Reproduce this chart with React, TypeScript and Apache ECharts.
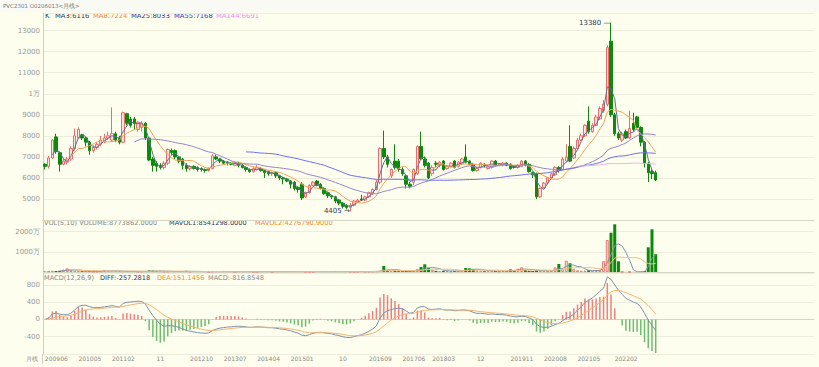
import React, { useEffect, useRef } from "react";
import * as echarts from "echarts";

// ---- monthly bars (PVC2301 continuous, monthly) ----
const opens = [
  6650, 6550, 6950, 7950, 7200, 6650, 6750, 6900, 7400, 7900,
  8050, 7900, 7700, 7300, 7450, 7600, 7700, 7900, 7800, 8100,
  7900, 7700, 9050, 8800, 8800, 8300, 8400, 8600, 7900, 6900,
  6700, 6600, 6500, 6700, 7300, 7300, 7000, 6900, 6600, 6450,
  6550, 6500, 6450, 6400, 6350, 6450, 7000, 6900, 6800, 6750,
  6700, 6600, 6700, 6600, 6500, 6400, 6300, 6400, 6450, 6350,
  6300, 6200, 6250, 6100, 6000, 5950, 5850, 5800, 5550, 5700,
  5100, 5300, 5650, 5850, 5700, 5500, 5300, 5150, 5100, 4950,
  4800, 4700, 4600, 4700, 4850, 5000, 4950, 5100, 5250, 5450,
  5800, 7400, 7000, 6100, 6800, 6800, 6400, 6100, 5700, 5800,
  6200, 7500, 6900, 6700, 6200, 6700, 6600, 6800, 6450, 6550,
  6800, 6550, 6700, 7000, 6800, 6650, 6350, 6500, 6650, 6450,
  6500, 6800, 6600, 6600, 6700, 6650, 6550, 6500, 6550, 6800,
  6650, 6250, 6200, 5100, 5550, 5750, 6000, 6150, 6500, 6400,
  6800, 7500, 6950, 7400, 7800, 8000, 8700, 8200, 8500, 8800,
  9200, 9500, 12500, 9000, 8100, 7800, 8200, 7900, 8600, 8900,
  8400, 7700, 6700, 6300, 6250,
];
const closes = [
  6550, 6950, 7800, 7250, 6650, 6800, 6900, 7400, 8000, 8300,
  7900, 7700, 7300, 7450, 7600, 7800, 7900, 8000, 8100, 7800,
  7700, 9100, 8600, 8500, 8600, 8650, 8600, 7900, 6850, 6600,
  6550, 6500, 6700, 7350, 7200, 7000, 6800, 6600, 6450, 6550,
  6450, 6400, 6400, 6350, 6450, 7050, 6900, 6800, 6700, 6700,
  6650, 6700, 6600, 6500, 6400, 6300, 6450, 6500, 6350, 6250,
  6200, 6250, 6100, 6000, 5950, 5850, 5700, 5500, 5450, 5050,
  5300, 5650, 5800, 5650, 5500, 5250, 5150, 5100, 4900, 4800,
  4650, 4600, 4700, 4900, 4950, 4950, 5100, 5300, 5450, 5800,
  7400, 7000, 6650, 6400, 6500, 6400, 6200, 5700, 5600, 6400,
  7500, 6900, 6600, 6000, 6500, 6650, 6750, 6400, 6550, 6700,
  6500, 6750, 6900, 6750, 6650, 6350, 6450, 6700, 6600, 6550,
  6800, 6600, 6650, 6700, 6600, 6450, 6500, 6600, 6800, 6600,
  6300, 6150, 5100, 5500, 5750, 6000, 6200, 6500, 6350, 6900,
  7000, 6800, 7400, 7800, 8000, 8500, 8200, 8500, 8900, 9300,
  9500, 12200, 9000, 8100, 7900, 8100, 7900, 8350, 8300, 8400,
  7700, 6700, 6250, 6200, 5900,
];
const lows = [
  6400, 6450, 6900, 7150, 6300, 6600, 6650, 6800, 7300, 7850,
  7800, 7500, 7100, 7200, 7350, 7500, 7650, 7800, 7700, 7700,
  7600, 7650, 8500, 8400, 8300, 8200, 8200, 7800, 6800, 6300,
  6300, 6400, 6400, 6600, 7100, 6900, 6700, 6400, 6300, 6350,
  6400, 6300, 6300, 6250, 6300, 6400, 6850, 6700, 6650, 6600,
  6600, 6550, 6500, 6450, 6300, 6250, 6250, 6350, 6300, 6000,
  6100, 6100, 6000, 5900, 5700, 5800, 5500, 5400, 5300, 4950,
  5050, 5250, 5600, 5600, 5450, 5200, 5050, 5000, 4800, 4700,
  4550, 4500, 4405, 4650, 4800, 4900, 4900, 5050, 5200, 5400,
  5700, 6900, 6500, 6000, 6400, 6300, 6100, 5500, 5500, 5650,
  6150, 6850, 6500, 5950, 6100, 6500, 6500, 6350, 6400, 6500,
  6450, 6500, 6650, 6700, 6600, 6300, 6300, 6450, 6500, 6400,
  6450, 6550, 6550, 6550, 6550, 6400, 6450, 6450, 6500, 6550,
  6250, 6000, 5000, 5050, 5500, 5700, 5950, 6100, 6250, 6350,
  6750, 6750, 6900, 7350, 7750, 7950, 8100, 8150, 8450, 8750,
  9100, 9400, 8900, 8000, 7800, 7700, 7850, 7850, 8200, 8300,
  7500, 6500, 5800, 5950, 5850,
];
const highs = [
  6700, 7050, 7850, 8100, 7250, 6900, 7000, 7500, 8350, 8400,
  8100, 7950, 7750, 7550, 7700, 8000, 8100, 8200, 9350, 8200,
  8000, 9150, 9100, 8900, 8900, 8700, 8700, 8650, 7950, 7000,
  6800, 6700, 6800, 7400, 7400, 7350, 7050, 6950, 6700, 6600,
  6600, 6550, 6500, 6450, 6500, 7150, 7100, 6950, 6850, 6800,
  6750, 6800, 6750, 6650, 6550, 6450, 6500, 6600, 6500, 6400,
  6350, 6300, 6300, 6150, 6050, 6000, 5900, 5850, 5600, 5800,
  5350, 5700, 5850, 5900, 5750, 5550, 5350, 5200, 5150, 5000,
  4850, 4750, 4800, 4950, 5000, 5200, 5150, 5350, 5500, 5900,
  7450, 8250, 7100, 6450, 7600, 6900, 6500, 6150, 5800, 6450,
  7550, 8200, 7000, 6750, 6600, 6800, 6800, 6850, 6600, 6750,
  6850, 6800, 6950, 7600, 6850, 6700, 6500, 6750, 6700, 6600,
  6850, 6850, 6700, 6750, 6750, 6700, 6600, 6650, 6850, 6850,
  6700, 6300, 6250, 5550, 5800, 6050, 6250, 6550, 6550, 7000,
  7600, 8500, 7500, 7900, 8100, 8550, 9400, 8600, 9000, 9400,
  9700, 12300, 13380, 9100, 8200, 8200, 8300, 9200, 9100, 8950,
  8450, 7750, 6750, 6400, 6350,
];
// volume, in 万 (10,000)
const volumes = [
  20, 40, 60, 50, 60, 120, 180, 90, 60, 50,
  40, 30, 30, 25, 30, 40, 100, 60, 50, 30,
  30, 40, 35, 30, 30, 25, 30, 40, 80, 70,
  40, 30, 25, 30, 30, 25, 20, 30, 60, 25,
  20, 15, 15, 20, 15, 25, 20, 15, 15, 15,
  15, 15, 15, 15, 20, 15, 15, 15, 15, 20,
  15, 15, 15, 20, 20, 15, 20, 25, 20, 30,
  20, 20, 15, 15, 20, 20, 15, 15, 20, 20,
  20, 20, 25, 20, 20, 20, 25, 30, 30, 40,
  60, 300, 80, 50, 60, 40, 40, 50, 40, 50,
  150, 250, 380, 200, 120, 60, 50, 60, 50, 40,
  50, 60, 80, 200, 180, 150, 80, 50, 40, 50,
  60, 50, 40, 50, 40, 130, 100, 160, 230, 100,
  60, 50, 80, 60, 50, 40, 50, 230, 395, 150,
  560, 430, 150, 80, 60, 70, 90, 60, 80, 100,
  540, 1580, 1940, 2355, 528, 10, 5, 5, 5, 5,
  15, 50, 1220, 2108, 877,
];
const tickLabels = [
  "200906", "201005", "201102", "11", "201210", "201307", "201404", "201501", "10",
  "201609", "201706", "201803", "12", "201911", "202008", "202105", "202202",
];
const tickIndex = [0, 9, 18, 30, 39, 48, 57, 66, 79, 87, 96, 104, 116, 125, 134, 143, 153];
const maPeriods = [3, 8, 25, 55, 144];
const maColors = ["#5f6f8f", "#f5a35a", "#9585c8", "#6f6ff0", "#f2aef2"];
const maLegend = ["MA3:6116", "MA8:7224", "MA25:8033", "MA55:7168", "MA144:6691"];
const maLegendColors = ["#2f3a5a", "#f08a30", "#3e3490", "#3535d0", "#f08cf0"];

const FONT = "'DejaVu Sans', Verdana, sans-serif";
const N_CATS = 207;

function sma(src: number[], n: number) {
  return src.map((_, i) => {
    if (i < n - 1) return "-";
    let s = 0;
    for (let k = i - n + 1; k <= i; k++) s += src[k];
    return +(s / n).toFixed(2);
  });
}
function ema(src: number[], n: number) {
  const k = 2 / (n + 1);
  const out: number[] = [];
  src.forEach((v, i) => out.push(i === 0 ? v : out[i - 1] * (1 - k) + v * k));
  return out;
}

export default function App() {
  const ref = useRef<HTMLDivElement>(null);
  useEffect(() => {
    if (!ref.current) return;
    const chart = echarts.init(ref.current, null, { renderer: "svg" });
    const cats = Array.from({ length: N_CATS }, (_, i) => String(i));
    const candles = opens.map((o, i) => [
      o,
      closes[i],
      Math.min(lows[i], o, closes[i]),
      Math.max(highs[i], o, closes[i]),
    ]);
    const e12 = ema(closes, 12);
    const e26 = ema(closes, 26);
    const dif = e12.map((v, i) => v - e26[i]);
    const dea: number[] = [];
    dif.forEach((v, i) => dea.push(i === 0 ? v : dea[i - 1] * 0.8 + v * 0.2));
    const macd = dif.map((v, i) => 2 * (v - dea[i]));

    let peakIdx = 0;
    let lowIdx = 0;
    highs.forEach((h, i) => { if (h > highs[peakIdx]) peakIdx = i; });
    lows.forEach((l, i) => { if (l < lows[lowIdx]) lowIdx = i; });

    const gridCommon = { left: 43, right: 5 };
    const splitColor = "#ededdc";
    const axisLabelBase = { color: "#999", fontSize: 7, fontFamily: FONT, margin: 3 };

    const txt = (x: number, y: number, text: string, fill: string, size = 7) => ({
      type: "text",
      x,
      y,
      silent: true,
      style: { text, fill, fontSize: size, fontFamily: FONT, verticalAlign: "middle" },
    });

    const option: any = {
      animation: false,
      backgroundColor: "#fefeee",
      grid: [
        { ...gridCommon, top: 13, height: 207 },
        { ...gridCommon, top: 220, height: 52 },
        { ...gridCommon, top: 273, height: 81 },
      ],
      xAxis: [0, 1, 2].map((g) => ({
        type: "category",
        gridIndex: g,
        data: cats,
        boundaryGap: true,
        axisLine: { show: true, lineStyle: { color: "#d6d6c4" } },
        axisTick: { show: false },
        splitLine: { show: false },
        axisLabel:
          g === 2
            ? {
                show: true,
                interval: (idx: number) => tickIndex.indexOf(idx) >= 0,
                formatter: (_v: string, idx: number) => {
                  const k = tickIndex.indexOf(idx);
                  return k >= 0 ? tickLabels[k] : "";
                },
                align: "left",
                color: "#888",
                fontSize: 6,
                fontFamily: FONT,
                margin: 1,
              }
            : { show: false },
      })),
      yAxis: [
        {
          type: "value",
          gridIndex: 0,
          min: 4000,
          max: 13840,
          interval: 1000,
          axisLine: { show: true, lineStyle: { color: "#cfcfbe" } },
          axisTick: { show: false },
          axisLabel: {
            ...axisLabelBase,
            showMinLabel: false,
            showMaxLabel: false,
            formatter: (v: number) => (v === 10000 ? "1万" : String(v)),
          },
          splitLine: { lineStyle: { color: splitColor } },
        },
        {
          type: "value",
          gridIndex: 1,
          min: 0,
          max: 2568,
          interval: 1000,
          axisLine: { show: true, lineStyle: { color: "#cfcfbe" } },
          axisTick: { show: false },
          axisLabel: {
            ...axisLabelBase,
            showMinLabel: false,
            showMaxLabel: false,
            formatter: (v: number) => v + "万",
          },
          splitLine: { lineStyle: { color: splitColor } },
        },
        {
          type: "value",
          gridIndex: 2,
          min: -800,
          max: 1077,
          interval: 400,
          axisLine: { show: true, lineStyle: { color: "#cfcfbe" } },
          axisTick: { show: false },
          axisLabel: { ...axisLabelBase, showMinLabel: false, showMaxLabel: false },
          splitLine: { lineStyle: { color: splitColor } },
        },
      ],
      series: [
        {
          name: "K",
          type: "candlestick",
          xAxisIndex: 0,
          yAxisIndex: 0,
          data: candles,
          barWidth: 3,
          itemStyle: {
            color: "#fde3e0",
            color0: "#0b8a0b",
            borderColor: "#ef6c6c",
            borderColor0: "#0b8a0b",
            borderWidth: 1,
          },
          markPoint: {
            symbol: "circle",
            symbolSize: 1,
            itemStyle: { color: "rgba(0,0,0,0)" },
            label: {
              show: true,
              position: "left",
              distance: 0,
              color: "#2f3a5a",
              fontSize: 7,
              fontFamily: FONT,
            },
            data: [
              { coord: [String(peakIdx), highs[peakIdx]], label: { formatter: highs[peakIdx] + " —" } },
              { coord: [String(lowIdx), lows[lowIdx]], label: { formatter: lows[lowIdx] + " →" } },
            ],
          },
        },
        ...maPeriods.map((n, k) => ({
          name: "MA" + n,
          type: "line",
          xAxisIndex: 0,
          yAxisIndex: 0,
          data: sma(closes, n),
          symbol: "none",
          lineStyle: { width: 1, color: maColors[k] },
          silent: true,
        })),
        {
          name: "VOL",
          type: "bar",
          xAxisIndex: 1,
          yAxisIndex: 1,
          barWidth: 3,
          data: volumes.map((v, i) => ({
            value: v,
            itemStyle:
              closes[i] >= opens[i]
                ? { color: "#fcdcdc", borderColor: "#f07878", borderWidth: 1 }
                : { color: "#0b8a0b" },
          })),
        },
        {
          name: "MAVOL1",
          type: "line",
          xAxisIndex: 1,
          yAxisIndex: 1,
          data: sma(volumes, 5),
          symbol: "none",
          lineStyle: { width: 1, color: "#8092a8" },
        },
        {
          name: "MAVOL2",
          type: "line",
          xAxisIndex: 1,
          yAxisIndex: 1,
          data: sma(volumes, 10),
          symbol: "none",
          lineStyle: { width: 1, color: "#f7be86" },
        },
        {
          name: "MACD",
          type: "bar",
          xAxisIndex: 2,
          yAxisIndex: 2,
          barWidth: 1.5,
          data: macd.map((v) => ({
            value: +v.toFixed(2),
            itemStyle: { color: v >= 0 ? "#f27f7f" : "#6cbd6c" },
          })),
        },
        {
          name: "DIFF",
          type: "line",
          xAxisIndex: 2,
          yAxisIndex: 2,
          data: dif.map((v) => +v.toFixed(2)),
          symbol: "none",
          lineStyle: { width: 1, color: "#7d91a8" },
        },
        {
          name: "DEA",
          type: "line",
          xAxisIndex: 2,
          yAxisIndex: 2,
          data: dea.map((v) => +v.toFixed(2)),
          symbol: "none",
          lineStyle: { width: 1, color: "#f6b271" },
        },
      ],
      graphic: [
        {
          type: "rect",
          z: -10,
          silent: true,
          shape: { x: 0, y: 0, width: 819, height: 12 },
          style: { fill: "#fafaf4" },
        },
        {
          type: "line",
          silent: true,
          shape: { x1: 42.5, y1: 354, x2: 42.5, y2: 364 },
          style: { stroke: "#cfcfbe", lineWidth: 1 },
        },
        txt(3, 5.5, "PVC2301 O0206013<月线>", "#777", 5.5),
        txt(45, 15.5, "K", "#2f3a5a", 7),
        txt(55, 15.5, maLegend[0], maLegendColors[0], 6.8),
        txt(93, 15.5, maLegend[1], maLegendColors[1], 6.8),
        txt(131, 15.5, maLegend[2], maLegendColors[2], 6.8),
        txt(174, 15.5, maLegend[3], maLegendColors[3], 6.8),
        txt(216, 15.5, maLegend[4], maLegendColors[4], 6.8),
        txt(44, 222.5, "VOL(5,10) VOLUME:8773862.0000", "#888", 6.6),
        txt(169, 222.5, "MAVOL1:8541298.0000", "#2f3a5a", 6.6),
        txt(255, 222.5, "MAVOL2:4276790.9000", "#f08a30", 6.6),
        txt(44, 277.5, "MACD(12,26,9)", "#888", 6.6),
        txt(100, 277.5, "DIFF:-257.2818", "#2f3a5a", 6.6),
        txt(157, 277.5, "DEA:151.1456", "#f08a30", 6.6),
        txt(208, 277.5, "MACD:-816.8548", "#888", 6.6),
        txt(26, 358.5, "月线", "#888", 6),
      ],
    };
    chart.setOption(option);
    return () => chart.dispose();
  }, []);
  return (
    <div
      ref={ref}
      style={{ position: "fixed", left: 0, top: 0, width: 819, height: 367 }}
    />
  );
}
